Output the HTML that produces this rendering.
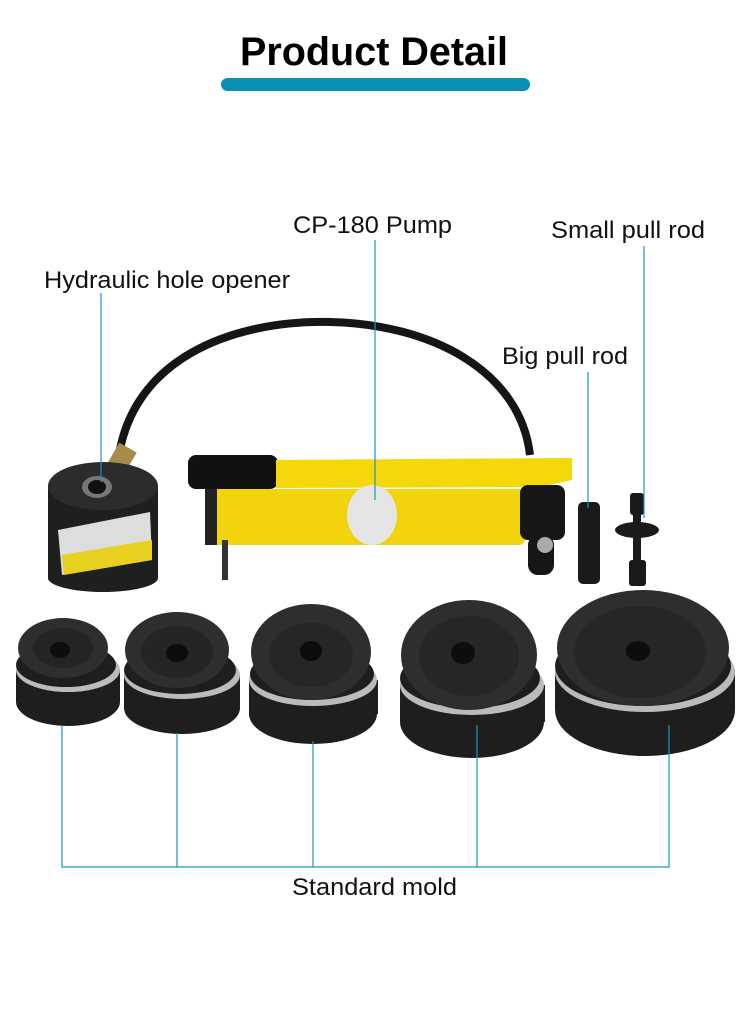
<!DOCTYPE html>
<html><head><meta charset="utf-8"><style>
body{margin:0;background:#fff;}
svg{display:block}
text{font-family:"Liberation Sans",Arial,sans-serif;fill:#111}
</style></head><body>
<svg width="750" height="1014" viewBox="0 0 750 1014" xmlns="http://www.w3.org/2000/svg">
<rect width="750" height="1014" fill="#fff"/>
<text x="240" y="65" font-size="40" font-weight="bold" textLength="268" lengthAdjust="spacingAndGlyphs" style="fill:#000">Product Detail</text>
<rect x="221" y="78" width="309" height="13" rx="6.5" fill="#0a8fb5"/>

<!-- hose -->
<path d="M118 462 C130 360 230 320 330 322 C430 324 520 370 530 455" fill="none" stroke="#151515" stroke-width="8"/>
<rect x="112" y="446" width="20" height="24" fill="#a88a4a" transform="rotate(30 122 458)"/>

<!-- hydraulic opener -->
<rect x="48" y="486" width="110" height="92" fill="#1f1f1f"/>
<ellipse cx="103" cy="578" rx="55" ry="14" fill="#1f1f1f"/>
<path d="M58 530 L150 512 L152 560 L62 575 Z" fill="#ddd"/>
<path d="M62 555 L152 540 L152 560 L64 575 Z" fill="#e8d020"/>
<ellipse cx="103" cy="486" rx="55" ry="24" fill="#2c2c2c"/>
<ellipse cx="97" cy="487" rx="15" ry="11" fill="#777"/>
<ellipse cx="97" cy="487" rx="9" ry="7" fill="#111"/>

<!-- pump -->
<rect x="188" y="455" width="90" height="34" rx="8" fill="#111"/>
<path d="M276 460 L572 458 L572 480 L540 487 L276 488 Z" fill="#f5d80a"/>
<rect x="205" y="489" width="320" height="56" rx="6" fill="#f2d40c"/>
<rect x="205" y="489" width="12" height="56" fill="#222"/>
<ellipse cx="372" cy="515" rx="25" ry="30" fill="#e5e5e5"/>
<rect x="520" y="485" width="45" height="55" rx="8" fill="#161616"/>
<rect x="528" y="535" width="26" height="40" rx="10" fill="#161616"/>
<circle cx="545" cy="545" r="8" fill="#aaa"/>
<rect x="222" y="540" width="6" height="40" fill="#333"/>

<!-- big pull rod -->
<rect x="578" y="502" width="22" height="82" rx="5" fill="#1a1a1a"/>
<!-- small pull rod -->
<rect x="630" y="493" width="14" height="22" rx="3" fill="#1a1a1a"/>
<ellipse cx="637" cy="530" rx="22" ry="8" fill="#1a1a1a"/>
<rect x="633" y="515" width="8" height="50" fill="#1a1a1a"/>
<rect x="629" y="560" width="17" height="26" rx="3" fill="#1a1a1a"/>

<!-- dies -->
<g>
<ellipse cx="68" cy="702" rx="52" ry="24" fill="#1e1e1e"/>
<rect x="16" y="670" width="104" height="32" fill="#1e1e1e"/>
<ellipse cx="68" cy="670" rx="52" ry="22" fill="#bbb"/>
<ellipse cx="66" cy="665" rx="50" ry="22" fill="#1e1e1e"/>
<ellipse cx="63" cy="648" rx="45" ry="30" fill="#2e2e2e"/>
<ellipse cx="63" cy="648" rx="30" ry="20" fill="#242424"/>
<ellipse cx="60" cy="650" rx="10" ry="8" fill="#0d0d0d"/>
</g>
<g>
<ellipse cx="182" cy="708" rx="58" ry="26" fill="#1e1e1e"/>
<rect x="124" y="675" width="116" height="33" fill="#1e1e1e"/>
<ellipse cx="182" cy="675" rx="58" ry="24" fill="#bbb"/>
<ellipse cx="180" cy="670" rx="56" ry="24" fill="#1e1e1e"/>
<ellipse cx="177" cy="650" rx="52" ry="38" fill="#2e2e2e"/>
<ellipse cx="177" cy="652" rx="36" ry="26" fill="#252525"/>
<ellipse cx="177" cy="653" rx="11" ry="9" fill="#0d0d0d"/>
</g>
<g>
<ellipse cx="313" cy="714" rx="64" ry="30" fill="#1e1e1e"/>
<rect x="249" y="680" width="129" height="34" fill="#1e1e1e"/>
<ellipse cx="313" cy="680" rx="64" ry="26" fill="#bbb"/>
<ellipse cx="312" cy="674" rx="62" ry="26" fill="#1e1e1e"/>
<ellipse cx="311" cy="652" rx="60" ry="48" fill="#2e2e2e"/>
<ellipse cx="311" cy="655" rx="42" ry="32" fill="#262626"/>
<ellipse cx="311" cy="651" rx="11" ry="10" fill="#0d0d0d"/>
</g>
<g>
<ellipse cx="472" cy="722" rx="72" ry="36" fill="#1e1e1e"/>
<rect x="400" y="685" width="145" height="37" fill="#1e1e1e"/>
<ellipse cx="472" cy="685" rx="72" ry="30" fill="#bbb"/>
<ellipse cx="470" cy="678" rx="70" ry="30" fill="#1e1e1e"/>
<ellipse cx="469" cy="655" rx="68" ry="55" fill="#2e2e2e"/>
<ellipse cx="469" cy="656" rx="50" ry="40" fill="#262626"/>
<ellipse cx="463" cy="653" rx="12" ry="11" fill="#0d0d0d"/>
</g>
<g>
<ellipse cx="645" cy="710" rx="90" ry="46" fill="#1e1e1e"/>
<rect x="555" y="670" width="180" height="40" fill="#1e1e1e"/>
<ellipse cx="645" cy="672" rx="90" ry="40" fill="#bbb"/>
<ellipse cx="643" cy="666" rx="88" ry="40" fill="#1e1e1e"/>
<ellipse cx="643" cy="648" rx="86" ry="58" fill="#2e2e2e"/>
<ellipse cx="640" cy="652" rx="66" ry="46" fill="#262626"/>
<ellipse cx="638" cy="651" rx="12" ry="10" fill="#0d0d0d"/>
</g>

<!-- connectors -->
<g stroke="#1c94c4" stroke-width="1.2" fill="none">
<line x1="375" y1="240" x2="375" y2="500"/>
<line x1="644" y1="246" x2="644" y2="518"/>
<line x1="101" y1="293" x2="101" y2="482"/>
<line x1="588" y1="372" x2="588" y2="508"/>
<polyline points="62,725 62,867 669,867 669,725"/>
<line x1="177" y1="733" x2="177" y2="867"/>
<line x1="313" y1="741" x2="313" y2="867"/>
<line x1="477" y1="725" x2="477" y2="867"/>
</g>

<text x="293" y="233" font-size="24" textLength="159" lengthAdjust="spacingAndGlyphs">CP-180 Pump</text>
<text x="551" y="238" font-size="24" textLength="154" lengthAdjust="spacingAndGlyphs">Small pull rod</text>
<text x="44" y="288" font-size="24" textLength="246" lengthAdjust="spacingAndGlyphs">Hydraulic hole opener</text>
<text x="502" y="364" font-size="24" textLength="126" lengthAdjust="spacingAndGlyphs">Big pull rod</text>
<text x="292" y="895" font-size="24" textLength="165" lengthAdjust="spacingAndGlyphs">Standard mold</text>
</svg>
</body></html>
